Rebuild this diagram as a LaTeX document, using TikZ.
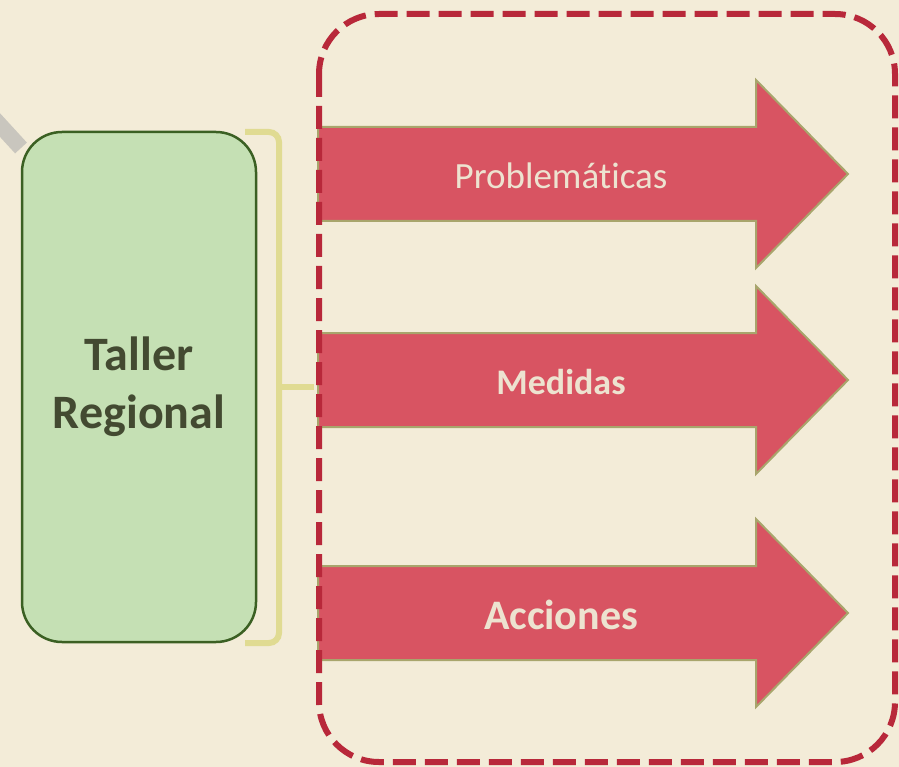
\documentclass[tikz,border=0pt]{standalone}
\usepackage{fontspec}
\setmainfont{Carlito}[Ligatures=CommonOff]
\usetikzlibrary{positioning}

\definecolor{paper}{HTML}{F3ECD8}
\definecolor{greenfill}{HTML}{C5E0B4}
\definecolor{greenline}{HTML}{3B6023}
\definecolor{greentext}{HTML}{434A31}
\definecolor{arrowfill}{HTML}{D85462}
\definecolor{arrowline}{HTML}{A8A56C}
\definecolor{arrowtext}{HTML}{EDE3D0}
\definecolor{bracecol}{HTML}{E0DB92}
\definecolor{dashcol}{HTML}{B8283A}
\definecolor{stub}{HTML}{C9C6BE}

\tikzset{
    tallerbox/.style={draw=greenline, line width=2.5pt, fill=greenfill, rounded corners=40pt,
        minimum width=234pt, minimum height=510pt, align=center, text=greentext,
        font=\fontsize{48}{58}\selectfont\bfseries},
    arrowbody/.style={draw=arrowline, line width=2pt, fill=arrowfill},
    arrowlabel/.style={text=arrowtext, inner sep=0pt},
    bracket/.style={draw=bracecol, line width=6pt, rounded corners=10pt},
    grouping/.style={draw=dashcol, line width=6pt, rounded corners=60pt, dash pattern=on 23pt off 9pt}
}

\begin{document}
\begin{tikzpicture}[x=1pt, y=-1pt]
        \useasboundingbox (0,0) rectangle (899,767);
        \clip (0,0) rectangle (899,767);
        \fill[paper] (0,0) rectangle (899,767);

        % trazo gris que entra por la esquina
        \draw[stub, line width=16pt] (-12,112) -- (21,148);

        \node[tallerbox] (taller) at (139,387) {Taller\\Regional};

        % llave amarilla
        \coordinate (bt) at (245,132);
        \coordinate (bb) at (245,643);
        \coordinate (bp) at (314,387);
        \draw[bracket] (bt) -- (279,132) -- (279,643) -- (bb);
        \draw[bracecol, line width=6pt] (279,387) -- (bp);

        % flechas
        \foreach \n/\yc/\txt in {prob/174/{\fontsize{37}{44}\selectfont Problemáticas},
                                 med/380/{\fontsize{36}{43}\selectfont\bfseries Medidas},
                                 acc/613/{\fontsize{42}{50}\selectfont\bfseries Acciones}} {
            \draw[arrowbody] (318,\yc-47) -- (756,\yc-47) -- (756,\yc-94) -- (848,\yc)
                -- (756,\yc+94) -- (756,\yc+47) -- (318,\yc+47) -- cycle;
            \node[arrowlabel] (\n) at (561,\yc+2) {\txt};
        }

        \draw[grouping] (319,14) rectangle (895,762);

    \end{tikzpicture}
\end{document}
